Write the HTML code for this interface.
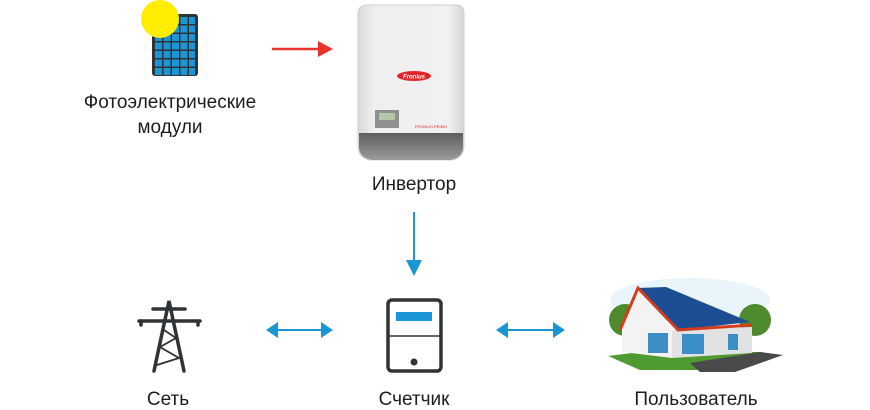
<!DOCTYPE html>
<html><head><meta charset="utf-8"><style>
body{margin:0;background:#fff;width:870px;height:410px;overflow:hidden}
svg{display:block}
text{font-family:"Liberation Sans","DejaVu Sans",sans-serif;font-size:19px;fill:#1d1d1b}
</style></head><body>
<svg width="870" height="410" viewBox="0 0 870 410">
<!-- solar panel -->
<rect x="152" y="14" width="46" height="62" rx="3" fill="#2f3336"/>
<g fill="#1a96d6">
<g id="row"><rect x="155" y="17" width="7" height="7"/><rect x="163.5" y="17" width="7" height="7"/><rect x="172" y="17" width="7" height="7"/><rect x="180.5" y="17" width="7" height="7"/><rect x="189" y="17" width="6" height="7"/></g>
<use href="#row" y="8.5"/><use href="#row" y="17"/><use href="#row" y="25.5"/><use href="#row" y="34"/><use href="#row" y="42.5"/><use href="#row" y="51"/>
</g>
<circle cx="160" cy="19" r="19" fill="#ffee00"/>
<text x="170" y="108" text-anchor="middle">Фотоэлектрические</text>
<text x="170" y="133" text-anchor="middle">модули</text>
<!-- red arrow -->
<line x1="272" y1="49" x2="320" y2="49" stroke="#e8332c" stroke-width="2.5"/>
<polygon points="318,41 333,49 318,57" fill="#e8332c"/>
<!-- inverter -->
<defs><linearGradient id="ig" x1="0" x2="1"><stop offset="0" stop-color="#d9d9d9"/><stop offset=".15" stop-color="#efefef"/><stop offset=".85" stop-color="#f1f1f1"/><stop offset="1" stop-color="#d5d5d5"/></linearGradient>
<linearGradient id="bg" x1="0" y1="0" x2="0" y2="1"><stop offset="0" stop-color="#5d5e60"/><stop offset="1" stop-color="#9a9b9d"/></linearGradient></defs>
<path d="M368 5 H456 Q464 5 464 14 V145 Q464 158 452 160 H370 Q358 158 358 145 V14 Q358 5 368 5Z" fill="url(#ig)" stroke="#cfcfcf"/>
<path d="M359 133 H463 V148 Q462 158 450 160 H372 Q360 158 359 148Z" fill="url(#bg)"/>
<ellipse cx="414" cy="76" rx="17" ry="5" fill="#e0262a"/>
<text x="414" y="78.5" text-anchor="middle" style="font-size:6px;fill:#fff;font-style:italic;font-weight:bold">Fronius</text>
<rect x="375" y="110" width="24" height="18" fill="#8d8f91"/>
<rect x="379" y="113" width="16" height="7" fill="#b8c6a8"/>
<text x="431" y="128" text-anchor="middle" style="font-size:4px;fill:#e0262a">FRONIUS PRIMO</text>
<text x="414" y="190" text-anchor="middle">Инвертор</text>
<!-- down arrow -->
<line x1="414" y1="212" x2="414" y2="262" stroke="#1a96d6" stroke-width="2"/>
<polygon points="406,260 414,276 422,260" fill="#1a96d6"/>
<!-- tower -->
<g stroke="#2f3336" fill="none" stroke-linecap="round">
<path d="M154 371 L169 301 L184 371" stroke-width="3.5"/>
<line x1="153" y1="309" x2="185" y2="309" stroke-width="3.5"/>
<line x1="139" y1="321" x2="200" y2="321" stroke-width="3.5"/>
<line x1="141" y1="321" x2="141" y2="325" stroke-width="3.5"/>
<line x1="198" y1="321" x2="198" y2="325" stroke-width="3.5"/>
<path d="M164 330 L176 338 L160 347 L179 358 L157 365" stroke-width="1.8"/>
</g>
<text x="168" y="405" text-anchor="middle">Сеть</text>
<!-- left arrow -->
<line x1="275" y1="330" x2="323" y2="330" stroke="#1a96d6" stroke-width="2"/>
<polygon points="266,330 278,322 278,338" fill="#1a96d6"/>
<polygon points="333,330 321,322 321,338" fill="#1a96d6"/>
<!-- meter -->
<rect x="388" y="300" width="53" height="71" rx="4" fill="none" stroke="#2f3336" stroke-width="3.5"/>
<line x1="389" y1="336" x2="440" y2="336" stroke="#2f3336" stroke-width="1.5"/>
<rect x="396" y="312" width="36" height="9" fill="#1a96d6"/>
<circle cx="414" cy="362" r="3.5" fill="#2f3336"/>
<text x="414" y="405" text-anchor="middle">Счетчик</text>
<!-- right arrow -->
<line x1="505" y1="330" x2="555" y2="330" stroke="#1a96d6" stroke-width="2"/>
<polygon points="496,330 508,322 508,338" fill="#1a96d6"/>
<polygon points="565,330 553,322 553,338" fill="#1a96d6"/>
<!-- house -->
<ellipse cx="690" cy="300" rx="80" ry="22" fill="#eaf4fb"/>
<circle cx="625" cy="320" r="16" fill="#4e8a2e"/>
<circle cx="755" cy="320" r="16" fill="#4e8a2e"/>
<polygon points="608,356 640,352 760,352 780,355 730,370 640,370" fill="#4f9a31"/>
<polygon points="690,363 760,352 783,355 735,372 700,372" fill="#4a4a4a"/>
<polygon points="622,328 638,290 672,330 672,358 622,352" fill="#f3f3f3"/>
<polygon points="672,330 752,327 752,353 672,358" fill="#e2e2e2"/>
<polygon points="638,288 666,287 750,322 678,330" fill="#1d4e93"/>
<polyline points="620,330 638,288 678,330 752,325" fill="none" stroke="#d43c1e" stroke-width="3"/>
<g fill="#3c8fc6"><rect x="648" y="333" width="20" height="20"/><rect x="682" y="334" width="22" height="20"/><rect x="728" y="334" width="10" height="16"/></g>
<text x="696" y="405" text-anchor="middle">Пользователь</text>
</svg>
</body></html>
